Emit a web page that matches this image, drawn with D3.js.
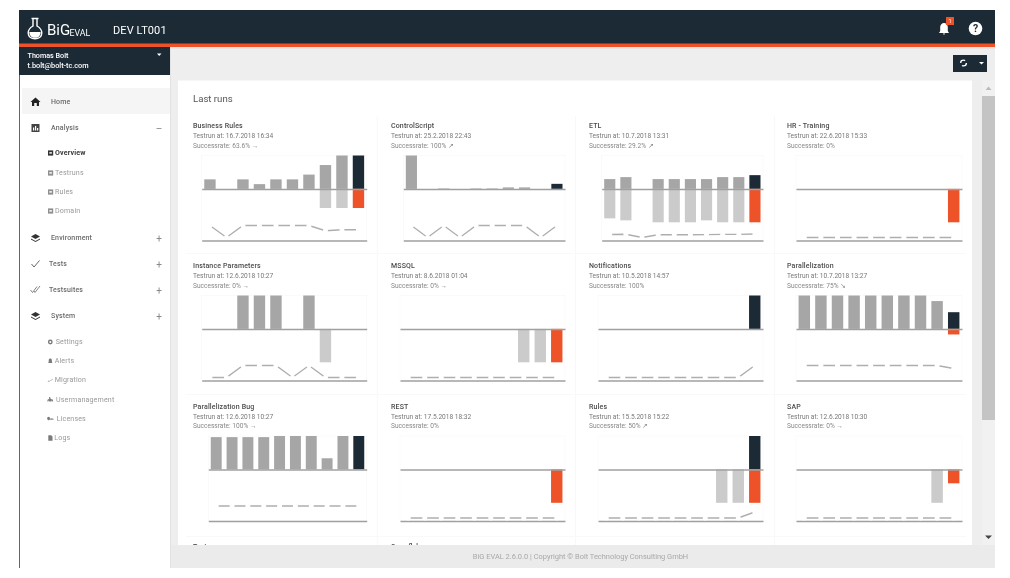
<!DOCTYPE html>
<html>
<head>
<meta charset="utf-8">
<title>BiG EVAL</title>
<script src="https://cdn.jsdelivr.net/npm/d3@7"></script>
<style>
  html, body { margin: 0; padding: 0; background: #fff; overflow: hidden; }
  svg { display: block; font-family: Roboto, sans-serif; filter: blur(0.4px); }
</style>
</head>
<body>
<svg></svg>
<script>
var svgWidth = 1010, svgHeight = 578;

// ---- data ----
var titles = ["Business Rules", "ControlScript", "ETL", "HR - Training",
  "Instance Parameters", "MSSQL", "Notifications", "Parallelization",
  "Parallelization Bug", "REST", "Rules", "SAP"];
var testruns = ["16.7.2018 16:34", "25.2.2018 22:43", "10.7.2018 13:31", "22.6.2018 15:33",
  "12.6.2018 10:27", "8.6.2018 01:04", "10.5.2018 14:57", "10.7.2018 13:27",
  "12.6.2018 10:27", "17.5.2018 18:32", "15.5.2018 15:22", "12.6.2018 10:30"];
var rates = ["63.6%", "100%", "29.2%", "0%", "0%", "0%", "100%", "75%", "100%", "0%", "50%", "0%"];
var trends = ["→", "↗", "↗", "", "→", "→", "", "↘", "→", "", "↗", "→"];

// passed tests per run, last run is the dark one
var passed = [
  [2, 0, 2, 1, 2, 2, 3, 5, 7, 7],
  [66, 0, 1, 0, 1, 1, 3, 3, 0, 10],
  [5, 6, 0, 5, 5, 5, 5, 6, 6, 7],
  [0, 0, 0, 0, 0, 0, 0, 0, 0, 0],
  [0, 0, 1, 1, 1, 0, 1, 0, 0, 0],
  [0, 0, 0, 0, 0, 0, 0, 0, 0, 0],
  [0, 0, 0, 0, 0, 0, 0, 0, 0, 1],
  [6, 6, 6, 6, 6, 6, 6, 6, 5, 3],
  [29, 29, 29, 29, 30, 30, 30, 10, 30, 30],
  [0, 0, 0, 0, 0, 0, 0, 0, 0, 0],
  [0, 0, 0, 0, 0, 0, 0, 0, 0, 1],
  [0, 0, 0, 0, 0, 0, 0, 0, 0, 0]
];
// failed tests per run, last run is the orange one
var failed = [
  [0, 0, 0, 0, 0, 0, 0, 4, 4, 4],
  [0, 0, 0, 0, 0, 0, 0, 0, 0, 0],
  [15, 16, 0, 17, 17, 17, 16, 17, 17, 17],
  [0, 0, 0, 0, 0, 0, 0, 0, 0, 1],
  [0, 0, 0, 0, 0, 0, 0, 1, 0, 0],
  [0, 0, 0, 0, 0, 0, 0, 1, 1, 1],
  [0, 0, 0, 0, 0, 0, 0, 0, 0, 0],
  [0, 0, 0, 0, 0, 0, 0, 0, 0, 1],
  [0, 0, 0, 0, 0, 0, 0, 0, 0, 0],
  [0, 0, 0, 0, 0, 0, 0, 0, 0, 1],
  [0, 0, 0, 0, 0, 0, 0, 1, 1, 1],
  [0, 0, 0, 0, 0, 0, 0, 0, 12, 5]
];
// success rate per run in percent, the small line under the bars
var success = [
  [100, 0, 100, 100, 100, 100, 100, 56, 64, 64],
  [100, 0, 100, 0, 100, 100, 100, 100, 0, 100],
  [25, 27, 0, 23, 23, 23, 24, 26, 26, 29],
  [0, 0, 0, 0, 0, 0, 0, 0, 0, 0],
  [0, 0, 100, 100, 100, 0, 100, 0, 0, 0],
  [0, 0, 0, 0, 0, 0, 0, 0, 0, 0],
  [0, 0, 0, 0, 0, 0, 0, 0, 0, 100],
  [100, 100, 100, 100, 100, 100, 100, 100, 100, 75],
  [100, 100, 100, 100, 100, 100, 100, 100, 100, 100],
  [0, 0, 0, 0, 0, 0, 0, 0, 0, 0],
  [0, 0, 0, 0, 0, 0, 0, 0, 0, 50],
  [0, 0, 0, 0, 0, 0, 0, 0, 0, 0]
];
var runs = d3.range(10);

var menuMain = ["Home", "Analysis", "Environment", "Tests", "Testsuites", "System"];
var menuAnalysis = ["Overview", "Testruns", "Rules", "Domain"];
var menuSystem = ["Settings", "Alerts", "Migration", "Usermanagement", "Licenses", "Logs"];

// ---- layout ----
var navy = "#1c2a35", orange = "#ee5229", grey = "#a6a6a6", lightGrey = "#cbcbcb";
var cellX = [193, 391, 589, 787];
var rowY = [126, 266, 406.5];          // centre of the title line
var plotLeft = [201.7, 403.3, 601.7, 796, 201.7, 400, 598, 796, 208.3, 400, 598, 796];
var plotRight = [366.7, 565, 763, 962];

var svg = d3.select("svg").attr("width", svgWidth).attr("height", svgHeight);

function box(x, y, w, h, fill) {
  return svg.append("rect").attr("x", x).attr("y", y).attr("width", w).attr("height", h).attr("fill", fill);
}
function label(parent, x, y, text, size, color, weight) {
  return parent.append("text").attr("x", x).attr("y", y).attr("dy", "0.35em")
    .attr("font-size", size).attr("fill", color).attr("font-weight", weight || 400).text(text);
}

// ---- page frame ----
box(19, 10, 976, 558, "#eeeeee");
box(19, 47, 151, 521, "#ffffff");
box(19, 75, 1, 493, "#666666");
box(170, 47, 1, 521, "#e2e2e2");

box(178, 80.5, 794, 470, "#ffffff");
label(svg, 193, 98.5, "Last runs", 9.6, "#555555");

// faint grid between the cells
[376.7, 575, 774].forEach(function (x) {
  box(x, 116, 1, 429, "#f8f8f8");
});
[253, 394, 536].forEach(function (y) {
  box(186, y, 780, 1, "#f9f9f9");
});

// ---- the twelve mini charts ----
titles.forEach(function (title, k) {
  var col = k % 4, row = Math.floor(k / 4);
  var cy = rowY[row];
  var top = cy + 29.5;             // top of the plot
  var g = svg.append("g");

  label(g, cellX[col], cy, title, 7, "#4a4a4a", 500).attr("letter-spacing", 0.15);
  label(g, cellX[col], cy + 9.7, "Testrun at: " + testruns[k], 6.6, "#777777");
  label(g, cellX[col], cy + 19.3, "Successrate: " + rates[k] + (trends[k] ? " " + trends[k] : ""), 6.6, "#888888");

  var x = d3.scaleBand().domain(runs)
    .range([plotLeft[k], plotRight[col]]).paddingInner(0.31).paddingOuter(0.155);

  var limit = d3.max(passed[k].concat(failed[k]));
  var y = d3.scaleLinear().domain([-limit, limit]).range([top + 66.8, top]);
  var yRate = d3.scaleLinear().domain([0, 100]).range([top + 82, top + 70]);

  // faint plot border
  g.append("rect").attr("x", plotLeft[k]).attr("y", top)
    .attr("width", plotRight[col] - plotLeft[k]).attr("height", 85)
    .attr("fill", "none").attr("stroke", "#f8f8f8").attr("stroke-width", 0.7);

  g.selectAll("rect.pass").data(passed[k]).enter().append("rect").attr("class", "pass")
    .attr("x", function (d, i) { return x(i); })
    .attr("y", function (d) { return y(d); })
    .attr("width", x.bandwidth())
    .attr("height", function (d) { return y(0) - y(d); })
    .attr("fill", function (d, i) { return i == 9 ? navy : grey; });

  g.selectAll("rect.fail").data(failed[k]).enter().append("rect").attr("class", "fail")
    .attr("x", function (d, i) { return x(i); })
    .attr("y", y(0))
    .attr("width", x.bandwidth())
    .attr("height", function (d) { return y(-d) - y(0); })
    .attr("fill", function (d, i) { return i == 9 ? orange : lightGrey; });

  // zero line and bottom line come from tick-less axes
  [y(0), top + 85].forEach(function (pos) {
    var axis = g.append("g").attr("transform", "translate(0," + pos + ")")
      .call(d3.axisBottom(d3.scaleLinear().range([plotLeft[k], plotRight[col]])).ticks(0).tickSize(0));
    axis.select("path").attr("stroke", "#a0a0a0").attr("stroke-width", 1.5);
  });

  // success line: white dots on the points leave the gaps of the original
  var line = d3.line()
    .x(function (d, i) { return x(i) + x.bandwidth() / 2; })
    .y(function (d) { return yRate(d); });
  g.append("path").datum(success[k]).attr("d", line)
    .attr("fill", "none").attr("stroke", "#aeaeae").attr("stroke-width", 1.4);
  g.selectAll("circle").data(success[k]).enter().append("circle")
    .attr("cx", function (d, i) { return x(i) + x.bandwidth() / 2; })
    .attr("cy", function (d) { return yRate(d); })
    .attr("r", 2.5).attr("fill", "#ffffff");
});

// start of the next row, cut off by the footer
label(svg, 193, 546.8, "Tests", 7, "#4a4a4a", 500);
label(svg, 391, 546.8, "Snowflake", 7, "#4a4a4a", 500);

// ---- scrollbar ----
box(982, 80.5, 13, 465, "#f1f1f1");
box(982, 96, 13, 324, "#c4c4c4");
svg.append("path").attr("d", "M985.5 90 L988.5 86.5 L991.5 90 Z").attr("fill", "#bbbbbb");
svg.append("path").attr("d", "M985 535.5 L988.5 539 L992 535.5 Z").attr("fill", "#444444");

// ---- footer ----
box(171, 545, 824, 23, "#ebebeb");
label(svg, 580.5, 556, "BiG EVAL 2.6.0.0 | Copyright © Bolt Technology Consulting GmbH", 7.45, "#a8a8a8")
  .attr("text-anchor", "middle");

// ---- header ----
box(19, 10, 976, 34, navy);
box(19, 43.5, 976, 3.5, orange);
box(19, 47, 151, 28, navy);
box(171, 47, 824, 2, "#e4e4e4");

svg.append("path")
  .attr("d", "M31.5 18.5 L38.5 18.5 M33 18.5 L33 26 C29.5 28 28.2 31 28.2 33 C28.2 36.5 31 38.8 35 38.8 C39 38.8 41.8 36.5 41.8 33 C41.8 31 40.5 28 37 26 L37 18.5")
  .attr("fill", "none").attr("stroke", "#ffffff").attr("stroke-width", 1.4);
svg.append("path")
  .attr("d", "M29.4 32 L40.6 32 C40.8 35.5 38.5 37.8 35 37.8 C31.5 37.8 29.2 35.5 29.4 32 Z").attr("fill", "#ffffff");
label(svg, 47, 29.5, "BiG", 15, "#ffffff", 400);
label(svg, 69.5, 33, "EVAL", 8.8, "#ffffff", 400);
label(svg, 113, 30.5, "DEV LT001", 11, "#ffffff", 400).attr("letter-spacing", 0.1);

// bell with badge, help button
svg.append("path")
  .attr("d", "M939 33 L949 33 L947.8 31 L947.8 27 C947.8 24.7 946 23 944 23 C942 23 940.2 24.7 940.2 27 L940.2 31 Z M942.8 33.6 L945.2 33.6 L944 35 Z")
  .attr("fill", "#ffffff");
box(946, 17, 8, 8, orange);
label(svg, 950, 21, "1", 5.5, "#ffffff").attr("text-anchor", "middle");
svg.append("circle").attr("cx", 975.5).attr("cy", 28.5).attr("r", 6.8).attr("fill", "#ffffff");
label(svg, 975.5, 28.7, "?", 10.5, navy, 700).attr("text-anchor", "middle");

// refresh button top right
box(953, 55, 34, 17, navy);
svg.append("circle").attr("cx", 963.5).attr("cy", 63).attr("r", 2.9)
  .attr("fill", "none").attr("stroke", "#ffffff").attr("stroke-width", 1.4).attr("stroke-dasharray", "6 3");
svg.append("path").attr("d", "M979 62 L984 62 L981.5 64.5 Z").attr("fill", "#ffffff");

// ---- user block ----
label(svg, 27.5, 55, "Thomas Bolt", 7.2, "#ffffff", 500);
label(svg, 27.5, 65.5, "t.bolt@bolt-tc.com", 7.3, "#ffffff", 500);
svg.append("path").attr("d", "M157 53.5 L161.5 53.5 L159.2 56 Z").attr("fill", "#ffffff");

// ---- side menu ----
box(22, 88, 148, 26, "#f5f5f5");

var mainY = [102, 128, 238, 264, 290, 316];
var mainX = [51, 51, 51, 49, 49, 51];
var mainSign = ["", "–", "+", "+", "+", "+"];
svg.selectAll("text.menu").data(menuMain).enter().append("text").attr("class", "menu")
  .attr("x", function (d, i) { return mainX[i]; })
  .attr("y", function (d, i) { return mainY[i]; })
  .attr("dy", "0.35em").attr("font-size", 7).attr("font-weight", 500)
  .attr("fill", "#6a6a6a")
  .attr("letter-spacing", 0.15).text(function (d) { return d; });
svg.selectAll("text.sign").data(mainSign).enter().append("text").attr("class", "sign")
  .attr("x", 159).attr("y", function (d, i) { return mainY[i]; })
  .attr("dy", "0.35em").attr("text-anchor", "middle").attr("font-size", 10).attr("fill", "#888888")
  .text(function (d) { return d; });

// main menu icons
var iconDark = "#333333";
svg.append("path").attr("d", "M35.5 97.5 L40.5 102 L39 102 L39 106 L36.8 106 L36.8 103 L34.2 103 L34.2 106 L32 106 L32 102 L30.5 102 Z").attr("fill", "#222222");
box(31.5, 124, 8, 8, "#444444");
box(33, 127.5, 1.2, 3, "#ffffff"); box(35, 126, 1.2, 4.5, "#ffffff"); box(37, 128, 1.2, 2.5, "#ffffff");
[238, 316].forEach(function (yy) {
  svg.append("path").attr("d", "M35.5 " + (yy - 4) + " L40 " + (yy - 1.5) + " L35.5 " + (yy + 1) + " L31 " + (yy - 1.5) + " Z M31 " + (yy + 0.5) + " L35.5 " + (yy + 3) + " L40 " + (yy + 0.5) + " L40 " + (yy + 1.5) + " L35.5 " + (yy + 4) + " L31 " + (yy + 1.5) + " Z")
    .attr("fill", iconDark);
});
svg.append("path").attr("d", "M31.5 264 L34 267 L39.5 260.5").attr("fill", "none").attr("stroke", "#555555").attr("stroke-width", 0.9);
svg.append("path").attr("d", "M30.5 290 L32.5 292.5 L37 286.5 M34 291 L35 292.5 L40 286").attr("fill", "none").attr("stroke", "#666666").attr("stroke-width", 0.8);

// sub menus
var analysisY = [153, 173, 192, 211];
svg.selectAll("text.sub1").data(menuAnalysis).enter().append("text").attr("class", "sub1")
  .attr("x", 55).attr("y", function (d, i) { return analysisY[i]; })
  .attr("dy", "0.35em").attr("font-size", 7.1).attr("letter-spacing", 0.15)
  .attr("font-weight", function (d, i) { return i == 0 ? 700 : 400; })
  .attr("fill", function (d, i) { return i == 0 ? "#3a3a3a" : "#999999"; })
  .text(function (d) { return d; });
svg.selectAll("rect.sub1").data(menuAnalysis).enter().append("rect").attr("class", "sub1")
  .attr("x", 48).attr("y", function (d, i) { return analysisY[i] - 2.6; })
  .attr("width", 5.2).attr("height", 5.2)
  .attr("fill", function (d, i) { return i == 0 ? "#333333" : "#8f8f8f"; });
svg.selectAll("rect.sub1b").data(menuAnalysis).enter().append("rect").attr("class", "sub1b")
  .attr("x", 49.3).attr("y", function (d, i) { return analysisY[i] - 0.8; })
  .attr("width", 2.6).attr("height", 1.4).attr("fill", "#ffffff");

var systemY = [342, 361, 380, 399.5, 419, 438];
var systemX = [55.7, 54.7, 54.7, 56, 56.7, 54.3];
var systemIcons = [
  "M-2.4 0 A2.4 2.4 0 1 1 2.4 0 A2.4 2.4 0 1 1 -2.4 0 Z M-1 0 A1 1 0 1 0 1 0 A1 1 0 1 0 -1 0 Z",
  "M-2.2 2 L2.2 2 L1.6 1 L1.6 -0.6 C1.6 -1.8 0.8 -2.4 0 -2.4 C-0.8 -2.4 -1.6 -1.8 -1.6 -0.6 L-1.6 1 Z",
  "M-2.8 1.6 L-1.4 0.6 L-0.4 1 L-0.8 1.4 Z M0 0.6 L2.6 -1.2 L2.8 -0.9 L0.2 1 Z",
  "M-3 2 L-2.6 0 L-1 -0.4 L-1.4 -2.2 L-0.2 -2.4 L0.4 -0.4 L2.4 0 L3 2 L2 2 L1.6 0.8 L1 2 L-1 2 L-1.4 0.8 L-2 2 Z",
  "M-3 0 A1.4 1.4 0 1 1 -0.4 -0.6 L3 -0.6 L3 0.9 L2.2 0.9 L2.2 0.3 L1.4 0.3 L1.4 0.9 L0.6 0.9 L0.6 0.5 L-0.4 0.5 A1.4 1.4 0 0 1 -3 0 Z",
  "M-2 -2.8 L0.8 -2.8 L2.2 -1.4 L2.2 2.8 L-2 2.8 Z"
];
svg.selectAll("text.sub2").data(menuSystem).enter().append("text").attr("class", "sub2")
  .attr("x", function (d, i) { return systemX[i]; })
  .attr("y", function (d, i) { return systemY[i]; })
  .attr("dy", "0.35em").attr("font-size", 7.1).attr("letter-spacing", 0.15).attr("fill", "#999999")
  .text(function (d) { return d; });
svg.selectAll("path.sub2").data(systemIcons).enter().append("path").attr("class", "sub2")
  .attr("transform", function (d, i) { return "translate(50.3," + systemY[i] + ")"; })
  .attr("d", function (d) { return d; })
  .attr("fill", "#7a7a7a").attr("fill-rule", "evenodd");
</script>
</body>
</html>
